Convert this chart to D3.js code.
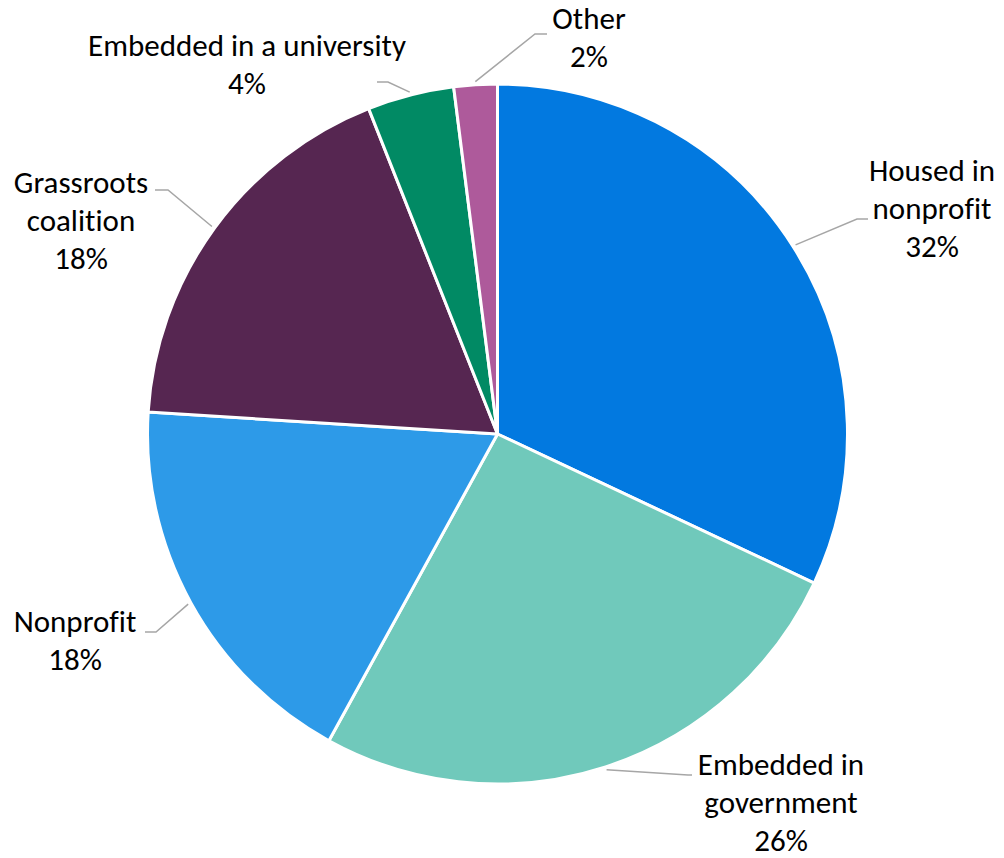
<!DOCTYPE html>
<html>
<head>
<meta charset="utf-8">
<script src="https://cdn.jsdelivr.net/npm/d3@7"></script>
<style>
  html, body { margin: 0; padding: 0; background: #ffffff; }
  svg { display: block; }
  text { font-family: Carlito, Calibri, Lato, "Open Sans", sans-serif; fill: #000000; font-variant-ligatures: none; }
</style>
</head>
<body>
<svg id="chart" width="1004" height="858"></svg>
<script>
// Organisational home of the groups (share of respondents, %)
const categories = [
  "Housed in nonprofit",
  "Embedded in government",
  "Nonprofit",
  "Grassroots coalition",
  "Embedded in a university",
  "Other"
];
const values = [32, 26, 18, 18, 4, 2];
const colors = ["#0279E0", "#70C9BB", "#2D9AE8", "#562651", "#018A64", "#AE5A9B"];
// How each data label wraps onto lines
const labelLines = [
  ["Housed in", "nonprofit"],
  ["Embedded in", "government"],
  ["Nonprofit"],
  ["Grassroots", "coalition"],
  ["Embedded in a university"],
  ["Other"]
];

// Label placement: text centre x, first baseline y, and the elbow / end of the leader line
const labelLayout = [
  { x: 932, y: 181, elbow: [857, 219], end: [868, 219] },
  { x: 781, y: 775, elbow: [688, 775], end: [692, 775] },
  { x: 75,  y: 632, elbow: [156, 632], end: [145, 632] },
  { x: 81,  y: 193, elbow: [168, 190], end: [155, 190] },
  { x: 247, y: 56,  elbow: [388, 82],  end: [377, 82] },
  { x: 589, y: 29,  elbow: [535, 34],  end: [547, 34] }
];

const cx = 497.5, cy = 434, radius = 350;
const lineH = 38;

const svg = d3.select("#chart");
const g = svg.append("g").attr("transform", `translate(${cx},${cy})`);

const data = categories.map((c, i) => ({ name: c, value: values[i], color: colors[i], lines: labelLines[i], layout: labelLayout[i] }));

const pie = d3.pie().value(d => d.value).sort(null);
const arc = d3.arc().innerRadius(0).outerRadius(radius);
const arcs = pie(data);

g.selectAll("path.slice")
  .data(arcs)
  .join("path")
  .attr("class", "slice")
  .attr("d", arc)
  .attr("fill", d => d.data.color)
  .attr("stroke", "#ffffff")
  .attr("stroke-width", 3)
  .attr("stroke-linejoin", "round");

// Leader lines start just outside the rim at each slice's mid-angle
const lines = svg.append("g");
arcs.forEach(a => {
  const mid = (a.startAngle + a.endAngle) / 2;
  const sx = cx + (radius + 3) * Math.sin(mid);
  const sy = cy - (radius + 3) * Math.cos(mid);
  const L = a.data.layout;
  lines.append("path")
    .attr("d", d3.line()([[sx, sy], L.elbow, L.end]))
    .attr("fill", "none")
    .attr("stroke", "#A6A6A6")
    .attr("stroke-width", 1.5);
});

// Data labels: category name lines then the percentage
const labels = svg.append("g");
arcs.forEach(a => {
  const L = a.data.layout;
  const t = labels.append("text")
    .attr("text-anchor", "middle")
    .attr("font-size", 31);
  const all = a.data.lines.concat([a.data.value + "%"]);
  all.forEach((s, i) => {
    t.append("tspan").attr("x", L.x).attr("y", L.y + i * lineH).text(s);
  });
});
</script>
</body>
</html>
